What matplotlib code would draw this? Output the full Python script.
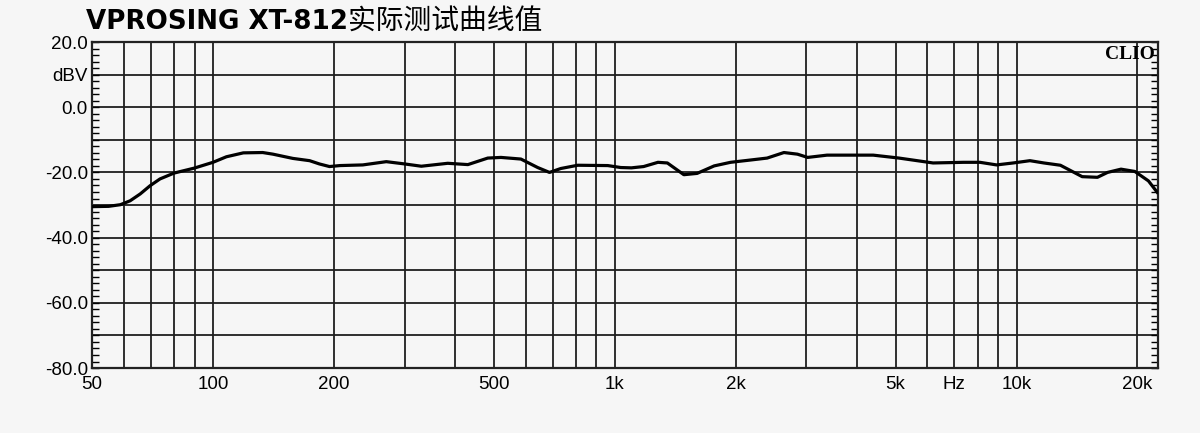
import matplotlib
matplotlib.use('Agg')
import matplotlib.pyplot as plt
from matplotlib.ticker import FixedLocator, MultipleLocator

# frequency response (Hz, dBV)
freq = [50, 55, 58.8, 62.2, 65.9, 69.7, 73.8, 80, 89.7, 100, 108, 119, 133, 141,
        158, 174, 184, 195, 207, 236, 270, 300, 330, 384, 431, 483, 521, 584,
        643, 688, 734, 809, 961, 1035, 1100, 1180, 1281, 1352, 1486, 1603,
        1768, 1942, 2176, 2395, 2637, 2849, 3021, 3376, 4004, 4400, 5100,
        6200, 7380, 8110, 8920, 9810, 10800, 11700, 12860, 14570, 15900,
        16850, 18200, 19700, 21300, 22400]
level = [-30.5, -30.4, -29.9, -28.7, -26.6, -24.1, -22.0, -20.2, -18.7, -16.9,
         -15.2, -14.0, -13.9, -14.4, -15.7, -16.4, -17.4, -18.2, -17.9, -17.7,
         -16.7, -17.4, -18.1, -17.2, -17.6, -15.6, -15.4, -15.9, -18.5, -20.0,
         -18.8, -17.8, -17.9, -18.5, -18.6, -18.2, -16.9, -17.1, -20.7, -20.3,
         -18.0, -16.9, -16.2, -15.6, -13.9, -14.4, -15.4, -14.7, -14.7, -14.7,
         -15.6, -17.1, -16.9, -16.9, -17.7, -17.1, -16.4, -17.1, -17.8, -21.3,
         -21.5, -20.0, -19.0, -19.7, -22.6, -26.1]

grid_freqs = [60, 70, 80, 90, 100, 200, 300, 400, 500, 600, 700, 800, 900,
              1000, 2000, 3000, 4000, 5000, 6000, 7000, 8000, 9000, 10000, 20000]
xtick_pos = [50, 100, 200, 500, 1000, 2000, 5000, 7000, 10000, 20000]
xtick_labels = ['50', '100', '200', '500', '1k', '2k', '5k', 'Hz', '10k', '20k']
ytick_pos = [20, 10, 0, -10, -20, -30, -40, -50, -60, -70, -80]
ytick_labels = ['20.0', 'dBV', '0.0', '', '-20.0', '', '-40.0', '', '-60.0', '', '-80.0']

bg = '#f6f6f6'
fig = plt.figure(figsize=(12, 4.33), dpi=100, facecolor=bg)
ax = fig.add_axes([0.0767, 0.150, 0.8883, 0.753])
ax.set_facecolor(bg)

ax.set_xscale('log')
ax.set_xlim(50, 22500)
ax.set_ylim(-80, 20)

for f in grid_freqs:
    ax.axvline(f, color='#1e1e1e', lw=1.3, zorder=1)
for v in range(-70, 20, 10):
    ax.axhline(v, color='#1e1e1e', lw=1.3, zorder=1)

ax.plot(freq, level, color='black', lw=2.3, zorder=3)

ax.xaxis.set_major_locator(FixedLocator(xtick_pos))
ax.xaxis.set_minor_locator(FixedLocator([]))
ax.set_xticklabels(xtick_labels, fontsize=13.5, family='Liberation Sans')
ax.tick_params(axis='x', length=0, pad=6)

ax.set_yticks(ytick_pos)
ax.set_yticklabels(ytick_labels, fontsize=13.5, family='Liberation Sans')
ax.yaxis.set_minor_locator(MultipleLocator(2))
ax.tick_params(axis='y', which='both', direction='in', left=True, right=True,
               length=5, width=1, pad=3)

for s in ax.spines.values():
    s.set_linewidth(1.6)
    s.set_color('#222222')

ax.text(0.997, 0.963, 'CLIO', transform=ax.transAxes, ha='right', va='center',
        fontsize=14, fontweight='bold', family='Liberation Serif', zorder=4)

# title: bold latin part followed by the chinese part
t1 = fig.text(86 / 1200, 1 - 22 / 433, 'VPROSING XT-812', fontsize=18.8,
              fontweight='bold', family='DejaVu Sans', va='center', ha='left')
fig.canvas.draw()
bb = t1.get_window_extent()
fig.text(bb.x1 / fig.bbox.width, 1 - 22 / 433, '实际测试曲线值', fontsize=20,
         family=['Noto Sans CJK SC', 'DejaVu Sans'], va='center', ha='left')

fig.savefig('out.png', dpi=100, facecolor=bg)
